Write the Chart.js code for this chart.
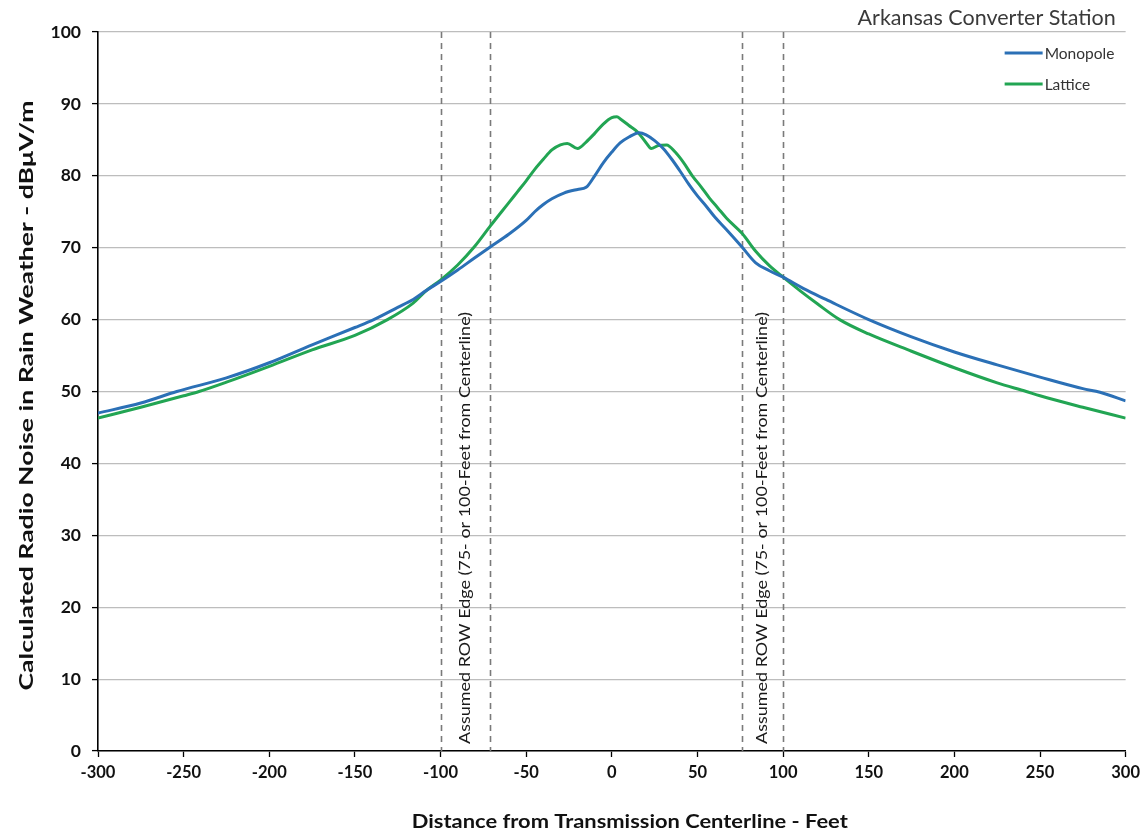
<!DOCTYPE html>
<html>
<head>
<meta charset="utf-8">
<script src="https://cdn.jsdelivr.net/npm/chart.js@4.4.1/dist/chart.umd.min.js"></script>
<style>
  html, body { margin: 0; padding: 0; background: #fff; }
  #wrap { width: 1146px; height: 835px; position: relative; }
</style>
</head>
<body>
<div id="wrap"><canvas id="c" width="1146" height="835"></canvas></div>
<script>
// Calculated rain-weather radio noise across the right-of-way, Arkansas converter station
const chartTitle = 'Arkansas Converter Station';
const xTitle = 'Distance from Transmission Centerline - Feet';
const yTitle = 'Calculated Radio Noise in Rain Weather - dB\u03bcV/m';
const rowLabel = 'Assumed ROW Edge (75- or 100-Feet from Centerline)';

// Right-of-way edge positions (feet from centerline)
const rowEdges = [-100, -71, 76, 100];
// label sits between each pair of edges
const rowLabelPairs = [[-100, -71], [76, 100]];

// Monopole profile
const monoDist = [-300, -275, -254, -225, -200, -175, -150, -139, -125, -116, -108, -100, -90, -80, -71,
  -60, -50, -45, -40, -35, -28, -20, -15, -10, -5, 0, 5, 10, 16, 20, 25, 30, 35, 40, 45, 50, 55, 60,
  67, 76, 84, 92, 100, 112, 125, 150, 175, 200, 225, 250, 275, 285, 300];
const monoNoise = [47.0, 48.4, 50.0, 51.9, 54.0, 56.5, 58.9, 60.0, 61.7, 62.8, 64.1, 65.3, 66.9, 68.6, 70.1,
  71.9, 73.8, 75.0, 76.0, 76.8, 77.6, 78.1, 78.4, 80.0, 81.8, 83.3, 84.6, 85.4, 86.0, 85.7, 84.9, 83.8, 82.3, 80.6, 78.8, 77.2, 75.8, 74.3,
  72.5, 70.1, 67.9, 66.8, 65.9, 64.3, 62.8, 60.0, 57.6, 55.5, 53.7, 52.0, 50.4, 49.9, 48.7];

// Lattice profile
const latDist = [-300, -275, -250, -241, -225, -200, -175, -150, -131, -116, -108, -100, -90, -80, -71,
  -60, -55, -50, -45, -40, -35, -30, -26, -20, -15, -10, -5, 0, 3, 5, 10, 15, 20, 23, 27, 32, 37, 42,
  47, 52, 57, 62, 67, 76, 84, 92, 100, 110, 120, 133, 150, 175, 200, 225, 242, 250, 275, 300];
const latNoise = [46.3, 47.8, 49.4, 50.0, 51.3, 53.5, 55.8, 57.8, 60.0, 62.3, 64.1, 65.5, 67.6, 70.2, 73.0,
  76.3, 77.8, 79.3, 80.9, 82.3, 83.6, 84.3, 84.5, 83.8, 84.7, 85.9, 87.2, 88.1, 88.2, 87.9, 87.0, 86.1, 84.6, 83.8, 84.2, 84.3, 83.3, 81.8,
  80.0, 78.5, 76.9, 75.5, 74.1, 72.0, 69.5, 67.5, 65.9, 64.0, 62.2, 60.0, 58.0, 55.6, 53.3, 51.2, 50.0, 49.4, 47.8, 46.3];

const seriesNames = ['Monopole', 'Lattice'];
const seriesColors = ['#2B70B6', '#22A553'];

const xTicks = [-300, -250, -200, -150, -100, -50, 0, 50, 100, 150, 200, 250, 300];
const yTicks = [0, 10, 20, 30, 40, 50, 60, 70, 80, 90, 100];

const FONT = 'Lato, "Open Sans", "DejaVu Sans", sans-serif';

const toPoints = (xs, ys) => xs.map((x, i) => ({ x: x, y: ys[i] }));

// Draws text stretched along its own direction to a given length
function stretchedText(ctx, text, x, y, angle, targetWidth) {
  const w = ctx.measureText(text).width;
  ctx.save();
  ctx.translate(x, y);
  ctx.rotate(angle);
  ctx.scale(targetWidth / w, 1);
  ctx.fillText(text, 0, 0);
  ctx.restore();
}

// ROW edge dashed lines and their rotated captions
const rowPlugin = {
  id: 'rowEdges',
  beforeDatasetsDraw(chart) {
    const { ctx, chartArea, scales } = chart;
    ctx.save();
    ctx.strokeStyle = '#7a7a7a';
    ctx.lineWidth = 1.6;
    ctx.setLineDash([6, 5]);
    rowEdges.forEach(v => {
      const x = Math.round(scales.x.getPixelForValue(v)) + 0.5;
      ctx.beginPath();
      ctx.moveTo(x, chartArea.top);
      ctx.lineTo(x, chartArea.bottom);
      ctx.stroke();
    });
    ctx.setLineDash([]);
    ctx.fillStyle = '#1a1a1a';
    ctx.font = '14.5px ' + FONT;
    ctx.textAlign = 'left';
    ctx.textBaseline = 'middle';
    rowLabelPairs.forEach(p => {
      const x = scales.x.getPixelForValue((p[0] + p[1]) / 2);
      stretchedText(ctx, rowLabel, x, chartArea.bottom - 7, -Math.PI / 2, 432);
    });
    ctx.restore();
  }
};

// Axis titles, chart title and legend block
const textPlugin = {
  id: 'texts',
  afterDraw(chart) {
    const { ctx, chartArea } = chart;
    ctx.save();
    ctx.fillStyle = '#111';
    ctx.font = 'bold 19.5px ' + FONT;
    ctx.textAlign = 'center';
    ctx.textBaseline = 'middle';
    const midY = (chartArea.top + chartArea.bottom) / 2;
    const midX = (chartArea.left + chartArea.right) / 2;
    stretchedText(ctx, yTitle, chartArea.left - 71, midY + 4, -Math.PI / 2, 590);
    stretchedText(ctx, xTitle, midX + 18, chartArea.bottom + 71, 0, 436);

    ctx.fillStyle = '#3a3a3a';
    ctx.font = '21.5px ' + FONT;
    ctx.textAlign = 'right';
    ctx.fillText(chartTitle, chartArea.right - 10, chartArea.top - 14);

    const lineStart = chartArea.right - 121;
    const lineEnd = chartArea.right - 83;
    ctx.font = '15.5px ' + FONT;
    ctx.textAlign = 'left';
    chart.data.datasets.forEach((ds, i) => {
      const y = chartArea.top + 21 + i * 31;
      ctx.fillStyle = '#fff';
      ctx.fillRect(lineStart - 2, y - 10, 100, 20);
      ctx.strokeStyle = ds.borderColor;
      ctx.lineWidth = 3;
      ctx.beginPath();
      ctx.moveTo(lineStart, y);
      ctx.lineTo(lineEnd, y);
      ctx.stroke();
      ctx.fillStyle = '#333';
      ctx.fillText(ds.label, lineEnd + 2, y + 1);
    });
    ctx.restore();
  }
};

new Chart(document.getElementById('c'), {
  type: 'line',
  data: {
    datasets: [
      { label: seriesNames[0], data: toPoints(monoDist, monoNoise), borderColor: seriesColors[0] },
      { label: seriesNames[1], data: toPoints(latDist, latNoise), borderColor: seriesColors[1] }
    ].map(d => Object.assign(d, {
      borderWidth: 3,
      pointRadius: 0,
      fill: false,
      cubicInterpolationMode: 'monotone'
    }))
  },
  options: {
    responsive: false,
    animation: false,
    layout: { padding: { top: 32, right: 20, bottom: 0, left: 0 } },
    plugins: {
      legend: { display: false },
      tooltip: { enabled: false },
      title: { display: false }
    },
    scales: {
      x: {
        type: 'linear',
        min: xTicks[0],
        max: xTicks[xTicks.length - 1],
        afterBuildTicks(scale) { scale.ticks = xTicks.map(v => ({ value: v })); },
        afterFit(scale) { scale.height = 84; },
        grid: { drawOnChartArea: false, drawTicks: true, tickLength: 6, tickColor: '#000', tickWidth: 1.3 },
        border: { display: true, color: '#000', width: 1.6 },
        ticks: { color: '#111', font: { family: FONT, size: 16.5, weight: 'bold' }, padding: 6, maxRotation: 0 },
        title: { display: false }
      },
      y: {
        min: yTicks[0],
        max: yTicks[yTicks.length - 1],
        afterBuildTicks(scale) { scale.ticks = yTicks.map(v => ({ value: v })); },
        afterFit(scale) { scale.width = 98; },
        grid: { color: '#bdbdbd', lineWidth: 1.2, drawTicks: true, tickLength: 6, tickColor: '#000', tickWidth: 1.3 },
        border: { display: true, color: '#000', width: 1.6 },
        ticks: { color: '#111', font: { family: FONT, size: 17.5, weight: 'bold' }, padding: 11 },
        title: { display: false }
      }
    }
  },
  plugins: [rowPlugin, textPlugin]
});
</script>
</body>
</html>
